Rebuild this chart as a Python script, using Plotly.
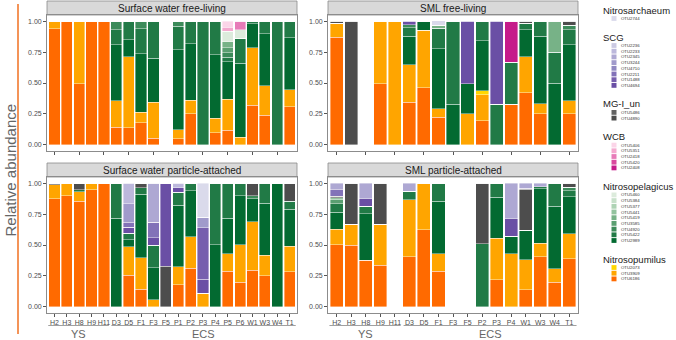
import plotly.graph_objects as go

W, H = 676, 340

# ---------------- categories ----------------
SW_CATS = ["H2", "H3", "H8", "H9", "H11", "D3", "D5", "F1", "F3", "F5",
           "P1", "P2", "P3", "P4", "P5", "P6", "W1", "W3", "W4", "T1"]
SML_CATS = ["H2", "H3", "H8", "H9", "H11", "D3", "D5", "F1", "F3", "F5",
            "P2", "P3", "P4", "W1", "W3", "W4", "T1"]
YS_N = 5  # first five stations belong to YS, the rest to ECS

# ---------------- legend groups / OTUs / colours ----------------
GROUP_TITLES = ["Nitrosarchaeum", "SCG", "MG-I_un", "WCB", "Nitrosopelagicus", "Nitrosopumilus"]
OTU_NITROSARCHAEUM = ["OTU2744"]
OTU_SCG = ["OTU2236", "OTU2233", "OTU2345", "OTU3244", "OTU4710", "OTU2211", "OTU1488", "OTU4694"]
OTU_MGI = ["OTU5486", "OTU4890"]
OTU_WCB = ["OTU5406", "OTU5351", "OTU2418", "OTU5420", "OTU2408"]
OTU_NITROSOPELAGICUS = ["OTU5460", "OTU5384", "OTU5377", "OTU5441", "OTU5419",
                        "OTU3585", "OTU4920", "OTU5422", "OTU2989"]
OTU_NITROSOPUMILUS = ["OTU2073", "OTU3909", "OTU6186"]

COL_NITROSARCHAEUM = ["#dadaeb"]
COL_SCG = ["#cbc9e2", "#bcb8dc", "#aea8d3", "#a09acb", "#9088c2", "#8272b8", "#775fae", "#6a4fa5"]
COL_MGI = ["#636363", "#4d4d4d"]
COL_WCB = ["#fbd5e8", "#f4a9cf", "#e77bb8", "#d94a9f", "#c51b8a"]
COL_NITROSOPELAGICUS = ["#dcebdc", "#c7e0ca", "#aed3b5", "#93c39e", "#77b287",
                        "#5a9f71", "#3c8b5a", "#217a46", "#036a31"]
COL_NITROSOPUMILUS = ["#ffd700", "#ffa500", "#ff6a00"]

# ---------------- Surface water free-living (SW_CATS) ----------------
swfl_OTU6186 = [0.94, 1, 0.495, 1, 1, 0.143, 0.138, 0.18, 0.054, 0, 0.05, 0.25, 0, 0.097, 0.116, 0, 0.32, 0.238, 0, 0.308]
swfl_OTU3909 = [0.06, 0, 0.505, 0, 0, 0.214, 0.573, 0.085, 0.292, 0, 0.07, 0.112, 0, 0.119, 0.254, 0.06, 0.464, 0.24, 0, 0.138]
swfl_OTU2989 = [0, 0, 0, 0, 0, 0.454, 0.14, 0.47, 0.356, 0, 0.65, 0.454, 0, 0.514, 0.30, 0.60, 0.196, 0.419, 0, 0.419]
swfl_OTU5422 = [0, 0, 0, 0, 0, 0.12, 0.149, 0.205, 0.298, 0, 0.19, 0.184, 1, 0.27, 0.038, 0.20, 0.02, 0.103, 1, 0.135]
swfl_OTU4920 = [0, 0, 0, 0, 0, 0.069, 0, 0.06, 0, 0, 0.04, 0, 0, 0, 0.035, 0, 0, 0, 0, 0]
swfl_OTU3585 = [0, 0, 0, 0, 0, 0, 0, 0, 0, 0, 0, 0, 0, 0, 0.041, 0, 0, 0, 0, 0]
swfl_OTU5419 = [0, 0, 0, 0, 0, 0, 0, 0, 0, 0, 0, 0, 0, 0, 0.048, 0, 0, 0, 0, 0]
swfl_OTU5460 = [0, 0, 0, 0, 0, 0, 0, 0, 0, 0, 0, 0, 0, 0, 0.087, 0.07, 0, 0, 0, 0]
swfl_OTU2418 = [0, 0, 0, 0, 0, 0, 0, 0, 0, 0, 0, 0, 0, 0, 0, 0.07, 0, 0, 0, 0]
swfl_OTU5351 = [0, 0, 0, 0, 0, 0, 0, 0, 0, 0, 0, 0, 0, 0, 0.031, 0, 0, 0, 0, 0]
swfl_OTU5406 = [0, 0, 0, 0, 0, 0, 0, 0, 0, 0, 0, 0, 0, 0, 0.05, 0, 0, 0, 0, 0]

# ---------------- SML free-living (SML_CATS) ----------------
smfl_OTU6186 = [0.87, 0, 0, 0.495, 0, 0.346, 0.46, 0.222, 0, 0, 0.195, 0, 0.33, 0.42, 0.25, 0, 0.25]
smfl_OTU3909 = [0.11, 0, 0, 0.505, 1, 0.303, 0.465, 0.068, 0, 0.25, 0.21, 0, 0, 0.291, 0.083, 0, 0.107]
smfl_OTU2073 = [0, 0, 0, 0, 0, 0, 0, 0, 0, 0, 0.033, 0, 0, 0, 0, 0, 0]
smfl_OTU2989 = [0.005, 0, 0, 0, 0, 0.229, 0.075, 0.489, 0.33, 0.245, 0.405, 0, 0, 0.221, 0.545, 0.5, 0.453]
smfl_OTU5422 = [0, 0, 0, 0, 0, 0.07, 0, 0.162, 0.67, 0, 0.157, 0.33, 0.337, 0.052, 0.122, 0.25, 0.122]
smfl_OTU4920 = [0, 0, 0, 0, 0, 0.022, 0, 0, 0, 0, 0, 0, 0, 0, 0, 0, 0.035]
smfl_OTU5419 = [0, 0, 0, 0, 0, 0, 0, 0.025, 0, 0, 0, 0, 0, 0, 0, 0.25, 0]
smfl_OTU2408 = [0, 0, 0, 0, 0, 0, 0, 0, 0, 0, 0, 0, 0.333, 0, 0, 0, 0]
smfl_OTU4890 = [0.015, 1, 0, 0, 0, 0, 0, 0, 0, 0, 0, 0, 0, 0.016, 0, 0, 0.033]
smfl_OTU4694 = [0, 0, 0, 0, 0, 0.03, 0, 0, 0, 0.505, 0, 0.67, 0, 0, 0, 0, 0]
smfl_OTU2744 = [0, 0, 0, 0, 0, 0, 0, 0.036, 0, 0, 0, 0, 0, 0, 0, 0, 0]

# ---------------- Surface water particle-attached (SW_CATS) ----------------
swpa_OTU6186 = [0.874, 0.90, 0.855, 0.946, 1, 0, 0.255, 0.142, 0, 0, 0.18, 0.31, 0, 0, 0.288, 0.20, 0.296, 0.253, 0, 0.282]
swpa_OTU3909 = [0.113, 0.095, 0.075, 0.054, 0, 0, 0.229, 0.256, 0.059, 0, 0.143, 0.255, 0.108, 0, 0.142, 0.303, 0.394, 0.164, 0, 0.207]
swpa_OTU2989 = [0, 0.005, 0, 0, 0, 0.718, 0.059, 0.511, 0.258, 0, 0.497, 0.375, 0, 0.503, 0.288, 0.397, 0.184, 0.422, 1, 0.299]
swpa_OTU5422 = [0, 0, 0.016, 0, 0, 0.282, 0.054, 0.053, 0.18, 0, 0.107, 0.06, 0, 0.497, 0.282, 0.10, 0, 0.161, 0, 0.067]
swpa_OTU4920 = [0, 0, 0, 0, 0, 0, 0, 0, 0, 0, 0, 0, 0, 0, 0, 0, 0.026, 0, 0, 0]
swpa_OTU4890 = [0.013, 0, 0.054, 0, 0, 0, 0, 0.038, 0, 0.33, 0, 0, 0, 0, 0, 0, 0.10, 0, 0, 0.145]
swpa_OTU4694 = [0, 0, 0, 0, 0, 0, 0.048, 0, 0.062, 0.67, 0.035, 0, 0.115, 0, 0, 0, 0, 0, 0, 0]
swpa_OTU1488 = [0, 0, 0, 0, 0, 0, 0, 0, 0, 0, 0, 0, 0.417, 0, 0, 0, 0, 0, 0, 0]
swpa_OTU2211 = [0, 0, 0, 0, 0, 0, 0.04, 0, 0.126, 0, 0, 0, 0, 0, 0, 0, 0, 0, 0, 0]
swpa_OTU3244 = [0, 0, 0, 0, 0, 0, 0.148, 0, 0, 0, 0, 0, 0.086, 0, 0, 0, 0, 0, 0, 0]
swpa_OTU2345 = [0, 0, 0, 0, 0, 0, 0, 0, 0.315, 0, 0, 0, 0, 0, 0, 0, 0, 0, 0, 0]
swpa_OTU2233 = [0, 0, 0, 0, 0, 0, 0.167, 0, 0, 0, 0.038, 0, 0, 0, 0, 0, 0, 0, 0, 0]
swpa_OTU2744 = [0, 0, 0, 0, 0, 0, 0, 0, 0, 0, 0, 0, 0.274, 0, 0, 0, 0, 0, 0, 0]

# ---------------- SML particle-attached (SML_CATS) ----------------
smpa_OTU6186 = [0.503, 0.497, 0.376, 0.336, 0, 0.403, 0.624, 0.288, 0, 0, 0, 0.22, 0, 0.14, 0.403, 0.2, 0.39]
smpa_OTU3909 = [0.123, 0.17, 0, 0.331, 0, 0.465, 0.376, 0.142, 0, 0, 0, 0.336, 0.43, 0.242, 0.113, 0.109, 0.201]
smpa_OTU2989 = [0.14, 0, 0.377, 0, 0, 0, 0, 0.425, 0, 0, 0, 0.331, 0.14, 0.236, 0.438, 0.503, 0.301]
smpa_OTU5422 = [0.067, 0, 0.059, 0, 0, 0.067, 0, 0.145, 0, 0, 0.51, 0.113, 0, 0, 0.019, 0.188, 0.048]
smpa_OTU4920 = [0, 0, 0, 0, 0, 0, 0, 0, 0, 0, 0, 0, 0, 0, 0, 0, 0.028]
smpa_OTU3585 = [0.033, 0, 0, 0, 0, 0, 0, 0, 0, 0, 0, 0, 0, 0, 0, 0, 0]
smpa_OTU5441 = [0.016, 0, 0, 0, 0, 0, 0, 0, 0, 0, 0, 0, 0, 0, 0, 0, 0]
smpa_OTU4890 = [0.013, 0.333, 0, 0.333, 0, 0, 0, 0, 0, 0, 0.49, 0, 0, 0.331, 0, 0, 0.032]
smpa_OTU4694 = [0, 0, 0.062, 0, 0, 0, 0, 0, 0, 0, 0, 0, 0.142, 0.01, 0, 0, 0]
smpa_OTU2211 = [0.055, 0, 0, 0, 0, 0, 0, 0, 0, 0, 0, 0, 0, 0, 0, 0, 0]
smpa_OTU2345 = [0.05, 0, 0.126, 0, 0, 0.065, 0, 0, 0, 0, 0, 0, 0.288, 0.04, 0.027, 0, 0]

# ---------------- assemble ----------------
GROUP_OTUS = [OTU_NITROSARCHAEUM, OTU_SCG, OTU_MGI, OTU_WCB, OTU_NITROSOPELAGICUS, OTU_NITROSOPUMILUS]
GROUP_COLS = [COL_NITROSARCHAEUM, COL_SCG, COL_MGI, COL_WCB, COL_NITROSOPELAGICUS, COL_NITROSOPUMILUS]
LEGEND_ORDER = [o for g in GROUP_OTUS for o in g]
COLOR = {o: c for g, cs in zip(GROUP_OTUS, GROUP_COLS) for o, c in zip(g, cs)}
STACK_ORDER = LEGEND_ORDER[::-1]  # bottom of stack first


def collect(prefix):
    return {k[len(prefix):]: v for k, v in globals().items() if k.startswith(prefix)}


PANELS = [
    ("Surface water free-living", SW_CATS, collect("swfl_"), "x", "y"),
    ("SML free-living", SML_CATS, collect("smfl_"), "x2", "y2"),
    ("Surface water particle-attached", SW_CATS, collect("swpa_"), "x3", "y3"),
    ("SML particle-attached", SML_CATS, collect("smpa_"), "x4", "y4"),
]


def fx(px):
    return px / W


def fy(py):
    return 1 - py / H


# panel pixel boxes: (left, right, top, bottom) of plotting area, strip top
BOXES = [(47, 297, 15, 151, 1), (328, 578, 15, 151, 1),
         (47, 297, 177, 313, 163), (328, 578, 177, 313, 163)]

fig = go.Figure()
for (title, cats, data, xa, ya) in PANELS:
    for otu in STACK_ORDER:
        if otu in data:
            fig.add_trace(go.Bar(
                x=cats, y=data[otu], name=otu, width=0.9,
                marker=dict(color=COLOR[otu], line=dict(color="white", width=0.4)),
                xaxis=xa, yaxis=ya, showlegend=False))

shapes = []
annotations = []
layout_axes = {}
AX_LINE = "#8c8c8c"
for i, ((title, cats, data, xa, ya), (l, r, t, b, st)) in enumerate(zip(PANELS, BOXES)):
    n = len(cats)
    bottom_row = i >= 2
    xname = "xaxis" if xa == "x" else "xaxis" + xa[1:]
    yname = "yaxis" if ya == "y" else "yaxis" + ya[1:]
    layout_axes[xname] = dict(
        domain=[fx(l), fx(r)], anchor=ya, type="category",
        categoryorder="array", categoryarray=cats, range=[-0.6, n - 0.4],
        showline=True, mirror=True, linecolor=AX_LINE, linewidth=0.8,
        ticks="outside", ticklen=3, tickwidth=0.8, tickcolor="#555",
        showticklabels=bottom_row, tickangle=0,
        tickfont=dict(size=7, color="#4d4d4d"),
        showgrid=False, zeroline=False)
    layout_axes[yname] = dict(
        domain=[fy(b), fy(t)], anchor=xa, range=[-0.05, 1.05],
        tickvals=[0, 0.25, 0.5, 0.75, 1.0],
        ticktext=["0.00", "0.25", "0.50", "0.75", "1.00"],
        showline=True, mirror=True, linecolor=AX_LINE, linewidth=0.8,
        ticks="outside", ticklen=3, tickwidth=0.8, tickcolor="#555",
        tickfont=dict(size=7, color="#4d4d4d"),
        showgrid=False, zeroline=False)
    # strip
    shapes.append(dict(type="rect", xref="paper", yref="paper",
                       x0=fx(l), x1=fx(r), y0=fy(t), y1=fy(st),
                       fillcolor="#d9d9d9", line=dict(color=AX_LINE, width=0.8), layer="below"))
    annotations.append(dict(text=title, xref="paper", yref="paper",
                            x=fx((l + r) / 2), y=fy((t + st) / 2), showarrow=False,
                            xanchor="center", yanchor="middle",
                            font=dict(size=10, color="#1a1a1a")))
    # YS / ECS brackets
    if bottom_row:
        for lab, a0, a1 in [("YS", -0.5, YS_N - 0.6), ("ECS", YS_N - 0.4, n - 0.5)]:
            shapes.append(dict(type="line", xref=xa, yref="paper",
                               x0=a0, x1=a1, y0=fy(325.5), y1=fy(325.5),
                               line=dict(color="#888", width=0.8)))
            annotations.append(dict(text=lab, xref=xa, yref="paper",
                                    x=(a0 + a1) / 2, y=fy(333.5), showarrow=False,
                                    xanchor="center", yanchor="middle",
                                    font=dict(size=11, color="#666")))

# y-axis title with orange rule
annotations.append(dict(text="Relative abundance", xref="paper", yref="paper",
                        x=fx(9.5), y=fy(170), textangle=-90, showarrow=False,
                        xanchor="center", yanchor="middle",
                        font=dict(size=15, color="#666")))
shapes.append(dict(type="line", xref="paper", yref="paper",
                   x0=fx(18), x1=fx(18), y0=fy(4), y1=fy(334),
                   line=dict(color="#f07020", width=1.5)))

# manual legend
LEG_TITLE_X = 600.5
SW_X0, SW_X1 = 611.5, 616.5
LAB_X = 619
SP = 5.7
yc = 10
for gt, otus in zip(GROUP_TITLES, GROUP_OTUS):
    annotations.append(dict(text=gt, xref="paper", yref="paper", x=fx(LEG_TITLE_X), y=fy(yc),
                            showarrow=False, xanchor="left", yanchor="middle",
                            font=dict(size=9.5, color="#1a1a1a")))
    yi = yc + 8.5
    for k, o in enumerate(otus):
        y = yi + k * SP
        shapes.append(dict(type="rect", xref="paper", yref="paper",
                           x0=fx(SW_X0), x1=fx(SW_X1), y0=fy(y + 2.4), y1=fy(y - 2.4),
                           fillcolor=COLOR[o], line=dict(width=0)))
        annotations.append(dict(text=o, xref="paper", yref="paper", x=fx(LAB_X), y=fy(y),
                                showarrow=False, xanchor="left", yanchor="middle",
                                font=dict(size=4.3, color="#333")))
    yc = yi + (len(otus) - 1) * SP + 18.5

fig.update_layout(
    width=W, height=H, margin=dict(l=0, r=0, t=0, b=0),
    paper_bgcolor="white", plot_bgcolor="white",
    barmode="stack", showlegend=False,
    font=dict(family="Arial, Liberation Sans, sans-serif"),
    shapes=shapes, annotations=annotations, **layout_axes)

fig.write_html("out.html", config={"displayModeBar": False},
               post_script="document.body.style.margin='0';document.body.style.overflow='hidden';")
